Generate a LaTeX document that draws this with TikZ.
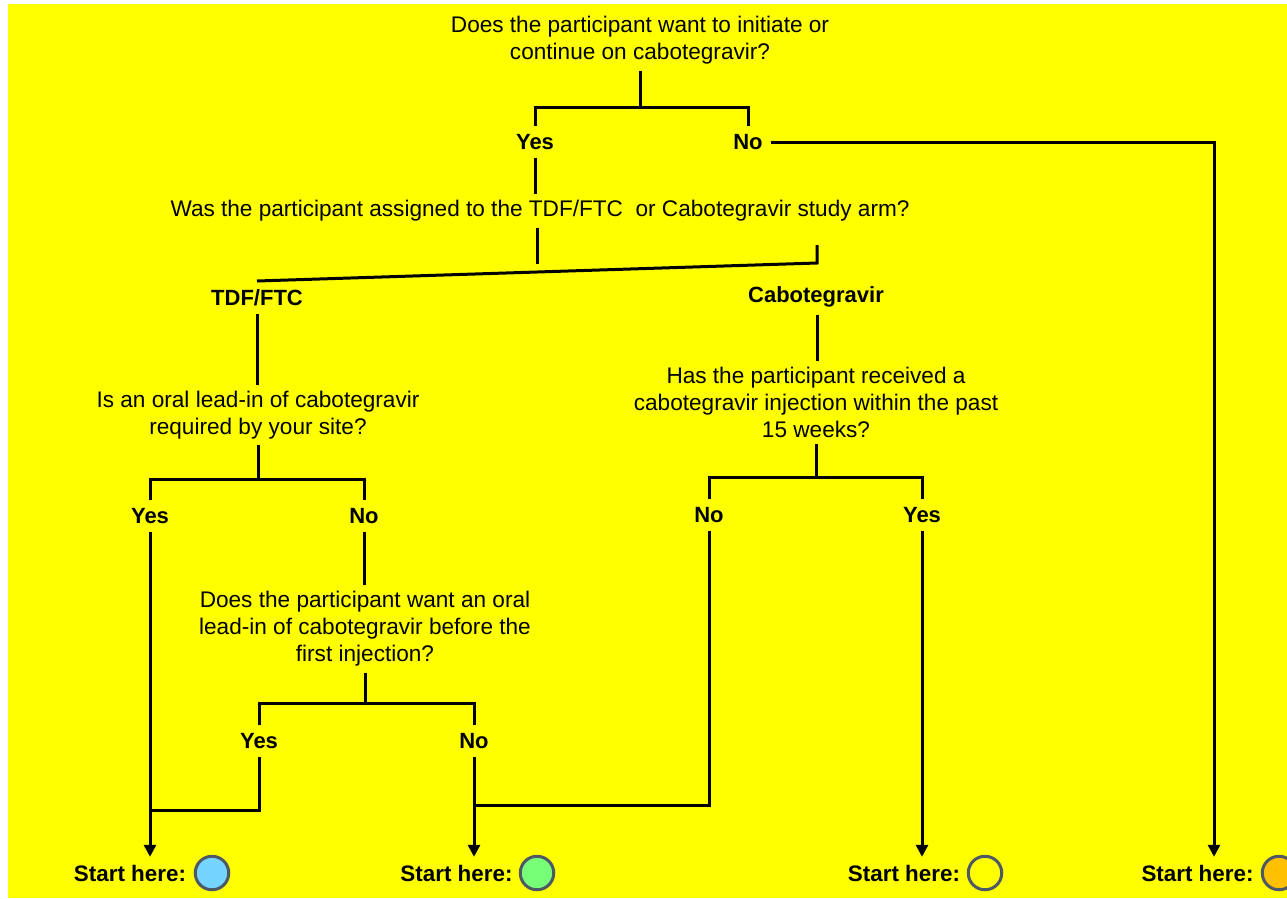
\documentclass[tikz,border=0pt]{standalone}
\usepackage{fontspec}
\setmainfont{Liberation Sans}
\usetikzlibrary{arrows.meta}
\definecolor{bgyellow}{HTML}{FFFF00}
\definecolor{ringgray}{HTML}{4F5966}
\definecolor{cblue}{HTML}{75D5FF}
\definecolor{cgreen}{HTML}{77FF77}
\definecolor{corange}{HTML}{FFC000}
\tikzset{
  qbox/.style={align=center, font=\fontsize{22.6}{27}\selectfont, inner xsep=0pt, inner ysep=6pt, outer sep=0pt},
  lab/.style={font=\bfseries\fontsize{22}{27}\selectfont, inner xsep=8pt, inner ysep=8pt, outer sep=0pt},
  startlab/.style={font=\bfseries\fontsize{22.4}{27}\selectfont, inner xsep=0pt, inner ysep=8pt, outer sep=0pt},
  ring/.style={circle, draw=ringgray, line width=3pt, minimum size=33.5pt, inner sep=0pt},
  ln/.style={line width=3pt, line join=miter},
  arr/.style={ln, -{Triangle[width=12pt,length=12pt]}}
}
\begin{document}
\begin{tikzpicture}[x=1pt,y=-1pt]
\useasboundingbox (0,0) rectangle (1287,898);
\begin{scope}
\clip (0,0) rectangle (1287,898);
\fill[white] (0,0) rectangle (1287,898);
\fill[bgyellow] (8,4) rectangle (1287,898);

% question nodes
\node[qbox] (q1) at (640,40.5) {Does the participant want to initiate or\\continue on cabotegravir?};
\node[qbox] (q2) at (540,211) {Was the participant assigned to the TDF/FTC\ \ or Cabotegravir study arm?};
\node[qbox] (q3) at (258,415) {Is an oral lead-in of cabotegravir\\required by your site?};
\node[qbox] (q5) at (816,402.5) {Has the participant received a\\cabotegravir injection within the past\\15 weeks?};
\node[qbox] (q4) at (365,629) {Does the participant want an oral\\lead-in of cabotegravir before the\\first injection?};

% answer labels
\node[lab] (yes1) at (535,142) {Yes};
\node[lab] (no1) at (748,142) {No};
\node[lab] (tdf) at (257,298) {TDF/FTC};
\node[lab] (cab) at (816,297) {Cabotegravir};
\node[lab] (yes2) at (150,516) {Yes};
\node[lab] (no2) at (364,516) {No};
\node[lab] (yes3) at (259,741) {Yes};
\node[lab] (no3) at (474,741) {No};
\node[lab] (no4) at (709,515) {No};
\node[lab] (yes4) at (922,515) {Yes};

% start labels and circles
\node[startlab] (s1) at (130,873) {Start here:};
\node[startlab] (s2) at (456.5,873) {Start here:};
\node[startlab] (s3) at (904,873) {Start here:};
\node[startlab] (s4) at (1197.5,873) {Start here:};
\node[ring, fill=cblue] (c1) at (212,873) {};
\node[ring, fill=cgreen] (c2) at (537,873) {};
\node[ring, fill=bgyellow] (c3) at (985,873) {};
\node[ring, fill=corange] (c4) at (1279,873) {};

% junction coordinates
\coordinate (bar1) at (0,107);
\coordinate (armR) at (817,245);
\coordinate (armRb) at (817,263);
\coordinate (armL) at (257,281);
\coordinate (bar3) at (0,479);
\coordinate (bar4) at (0,703);
\coordinate (bar5) at (0,477);
\coordinate (join1) at (0,810);
\coordinate (join2) at (0,805);
\coordinate (noR) at (1214,0);

% connectors
\draw[ln] (q1.south) -- (q1.south |- bar1);
\draw[ln] (yes1.north) |- (no1.north |- bar1) -- (no1.north);
\draw[arr] (no1.east) -| (noR |- s4.north);
\draw[ln] (yes1.south) -- (yes1.south |- q2.north);
\draw[ln] ([xshift=-3pt]q2.south) -- ++(0,36);
\draw[ln] (armR) -- (armRb) -- (armL);
\draw[ln] (tdf.south) -- (tdf.south |- q3.north);
\draw[ln] (cab.south -| armR) -- (armR |- q5.north);
\draw[ln] (q3.south) -- (q3.south |- bar3);
\draw[ln] (yes2.north) |- (no2.north |- bar3) -- (no2.north);
\draw[arr] (yes2.south) -- (yes2.south |- s1.north);
\draw[ln] (no2.south) -- (no2.south |- q4.north);
\draw[ln] (q4.south) -- (q4.south |- bar4);
\draw[ln] (yes3.north) |- (no3.north |- bar4) -- (no3.north);
\draw[ln] (yes3.south) |- (yes2.south |- join1);
\draw[arr] (no3.south) -- (no3.south |- s2.north);
\draw[ln] (q5.south) -- (q5.south |- bar5);
\draw[ln] (no4.north) |- (yes4.north |- bar5) -- (yes4.north);
\draw[ln] (no4.south) |- (no3.south |- join2);
\draw[arr] (yes4.south) -- (yes4.south |- s3.north);
\end{scope}
\end{tikzpicture}
\end{document}
